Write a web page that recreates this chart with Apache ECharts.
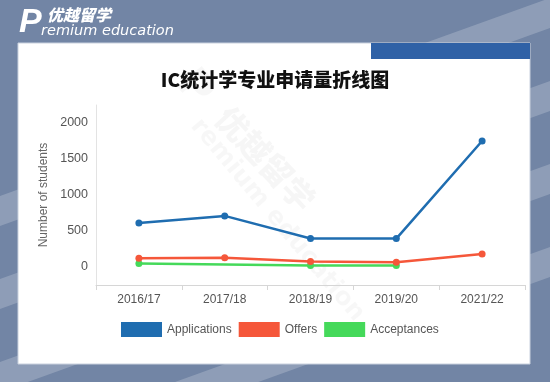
<!DOCTYPE html>
<html><head><meta charset="utf-8">
<script src="https://cdn.jsdelivr.net/npm/echarts@6/dist/echarts.min.js"></script>
<style>html,body{margin:0;padding:0;background:#7285a5;}#c{width:550px;height:382px;}</style>
</head><body><div id="c"></div>
<script>
const categories = ['2016/17','2017/18','2018/19','2019/20','2021/22'];
const applications = [610, 710, 395, 395, 1750];
const offers = [120, 130, 75, 65, 180];
const acceptances = [50, null, 20, 20, null];
const seriesNames = ['Applications','Offers','Acceptances'];
const titleText = 'IC统计学专业申请量折线图';
const yAxisName = 'Number of students';

const colors = ['#1f6db0','#f5573a','#45d95a'];
const chart = echarts.init(document.getElementById('c'), null, {renderer:'canvas'});
const deg = Math.PI/180;

function band(c, t){
  return {type:'polygon', silent:true, shape:{points:[[0,c-t],[560,c-t-0.36*560],[560,c+t-0.36*560],[0,c+t]]},
    style:{fill:'rgba(255,255,255,0.2)'}};
}

chart.setOption({
  animation:false,
  color: colors,
  graphic:[
    {type:'rect', silent:true, shape:{x:0,y:0,width:550,height:382}, style:{fill:'#7285a5'}, z:-10},
    Object.assign(band(211,15),{z:-9}),
    Object.assign(band(294,15),{z:-9}),
    Object.assign(band(377,15),{z:-9}),
    Object.assign(band(460,15),{z:-9}),
    {type:'rect', silent:true, shape:{x:18,y:43,width:512,height:321}, style:{fill:'#ffffff', stroke:'#c9d1de', lineWidth:1}, z:-8},
    {type:'rect', silent:true, shape:{x:371,y:43,width:159,height:16}, style:{fill:'#2f61a6'}, z:-7},
    {type:'text', silent:true, x:19, y:6, style:{text:'P', fill:'#ffffff', font:'italic bold 34px "Liberation Sans"'}, z:-7},
    {type:'text', silent:true, x:47, y:7, style:{text:'优越留学', fill:'#ffffff', font:'italic 900 16px "Noto Sans CJK SC"'}, z:-7},
    {type:'text', silent:true, x:41, y:24, style:{text:'remium education', fill:'#ffffff', font:'oblique 14.5px "DejaVu Sans"'}, z:-7},
    {type:'text', silent:true, x:200, y:62, rotation:-50*deg, style:{text:'P', fill:'rgba(0,0,0,0.03)', font:'bold 44px "DejaVu Sans"'}, z:-6},
    {type:'text', silent:true, x:222, y:112, rotation:-47*deg, style:{text:'优越留学', fill:'rgba(0,0,0,0.035)', font:'900 32px "Noto Sans CJK SC"', verticalAlign:'middle'}, z:-6},
    {type:'text', silent:true, x:195, y:122, rotation:-50*deg, style:{text:'remium education', fill:'rgba(0,0,0,0.03)', font:'bold 25px "DejaVu Sans"', verticalAlign:'middle'}, z:-6}
  ],
  title:{
    text:titleText, left:'center', top:65,
    textStyle:{fontSize:19, fontWeight:900, color:'#111', fontFamily:'"Noto Sans CJK SC"'}
  },
  legend:{
    data:seriesNames, left:116, top:317, icon:'rect', itemWidth:41, itemHeight:15, itemGap:7,
    textStyle:{fontSize:12, color:'#555', fontFamily:'"Liberation Sans", Arial'}
  },
  grid:{left:96, right:25, top:105, bottom:97, containLabel:false},
  xAxis:{
    type:'category', data:categories, boundaryGap:true,
    axisLine:{show:true, onZero:false, lineStyle:{color:'#d6d6d6', width:1}},
    axisTick:{show:true, length:5, lineStyle:{color:'#d6d6d6'}},
    axisLabel:{fontSize:12, color:'#555', margin:9, fontFamily:'"Liberation Sans", Arial'},
    splitLine:{show:false}
  },
  yAxis:{
    type:'value', min:-250, max:2250, interval:250,
    name:yAxisName, nameLocation:'middle', nameGap:41, nameRotate:90,
    nameTextStyle:{fontSize:12, color:'#666', fontFamily:'"Liberation Sans", Arial'},
    axisLine:{show:true, lineStyle:{color:'#e3e3e3'}},
    axisTick:{show:false},
    splitLine:{show:false},
    axisLabel:{fontSize:12.5, color:'#555', margin:8, fontFamily:'"Liberation Sans", Arial',
      formatter:v => (v>=0 && v%500===0) ? String(v) : ''}
  },
  series:[
    {name:seriesNames[0], type:'line', data:applications, symbol:'circle', symbolSize:7, lineStyle:{width:2.5}, connectNulls:true, z:4},
    {name:seriesNames[1], type:'line', data:offers, symbol:'circle', symbolSize:7, lineStyle:{width:2.5}, connectNulls:true, z:3},
    {name:seriesNames[2], type:'line', data:acceptances, symbol:'circle', symbolSize:7, lineStyle:{width:2.5}, connectNulls:true, z:2}
  ]
});
</script></body></html>
